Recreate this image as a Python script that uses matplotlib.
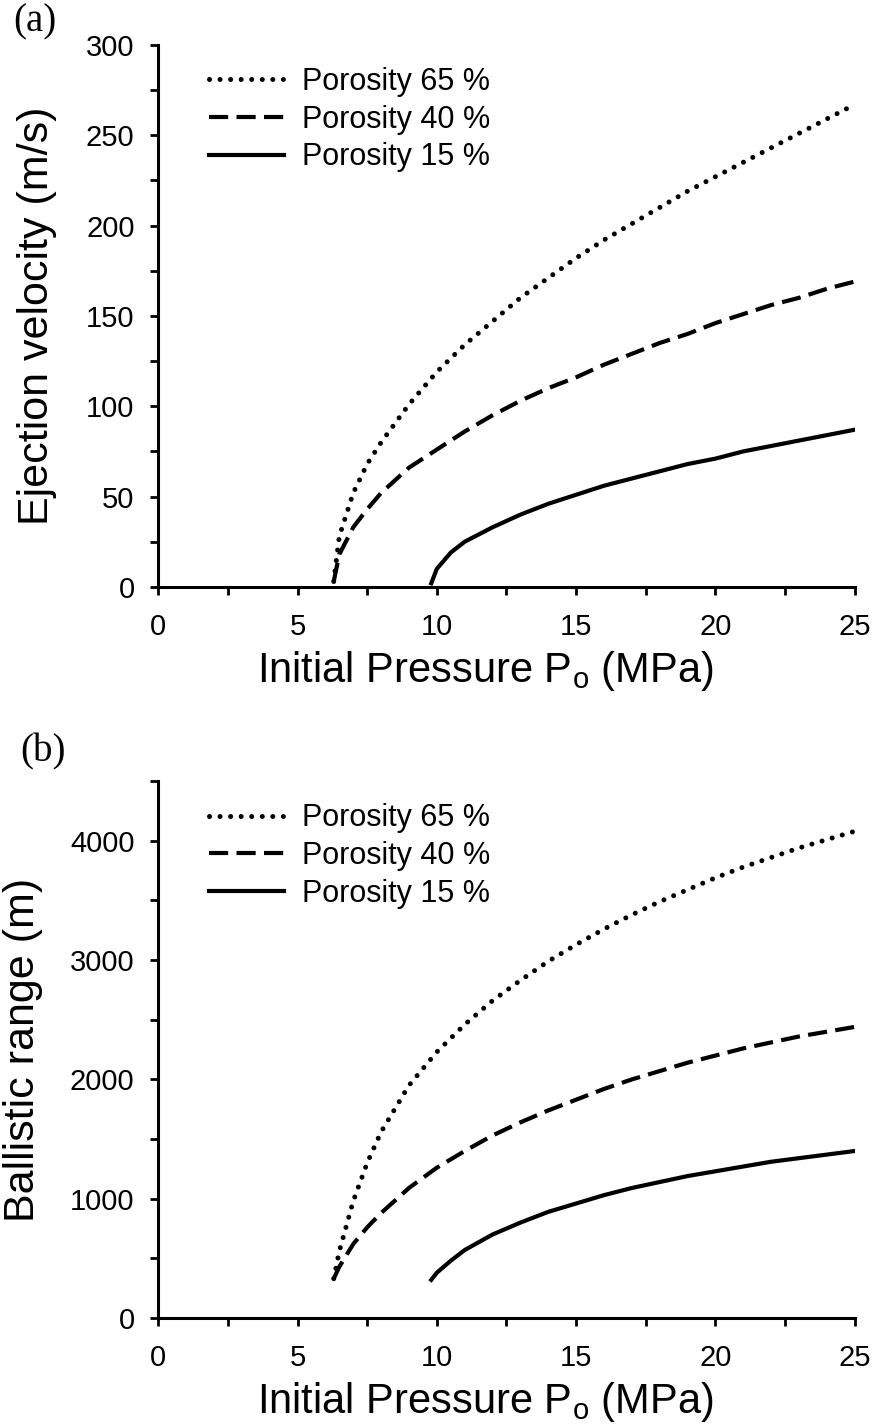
import matplotlib.pyplot as plt
from matplotlib.ticker import MultipleLocator

plt.rcParams['font.family'] = ['Liberation Sans', 'DejaVu Sans']
plt.rcParams['mathtext.fontset'] = 'custom'
plt.rcParams['mathtext.rm'] = 'Liberation Sans'

# --- data ---
# (a) ejection velocity (m/s) vs initial pressure (MPa)
p65_v = [6.3, 6.5, 7.0, 7.5, 8.0, 9.0, 10, 11, 12, 13, 14, 15, 16, 17, 18, 19, 20, 21, 22, 23, 24, 25]
v65 = [3, 28, 52, 68, 80, 101, 119, 134, 147, 160, 171, 182, 192, 201, 210, 219, 227, 235, 243, 251, 259, 267]
p40_v = [6.3, 6.5, 7.0, 7.5, 8.0, 9.0, 10, 11, 12, 13, 14, 15, 16, 17, 18, 19, 20, 21, 22, 23, 24, 25]
v40 = [3, 18, 33, 43, 52, 66, 76, 86, 95, 103, 110, 116, 123, 129, 135, 140, 146, 151, 156, 160, 165, 169]
p15_v = [9.8, 10.0, 10.5, 11, 12, 13, 14, 15, 16, 17, 18, 19, 20, 21, 22, 23, 24, 25]
v15 = [2, 10, 19, 25, 33, 40, 46, 51, 56, 60, 64, 68, 71, 75, 78, 81, 84, 87]

# (b) ballistic range (m) vs initial pressure (MPa)
p65_r = [6.3, 6.5, 7.0, 7.5, 8.0, 9.0, 10, 11, 12, 13, 14, 15, 16, 17, 18, 19, 20, 21, 22, 23, 24, 25]
r65 = [330, 560, 980, 1300, 1560, 1950, 2230, 2460, 2660, 2830, 2990, 3130, 3260, 3380, 3490, 3590, 3690, 3780, 3860, 3940, 4010, 4080]
p40_r = [6.3, 6.5, 7.0, 7.5, 8.0, 9.0, 10, 11, 12, 13, 14, 15, 16, 17, 18, 19, 20, 21, 22, 23, 24, 25]
r40 = [330, 430, 620, 760, 880, 1090, 1260, 1400, 1530, 1640, 1740, 1830, 1920, 2000, 2070, 2140, 2200, 2260, 2310, 2360, 2400, 2440]
p15_r = [9.8, 10.0, 10.5, 11, 12, 13, 14, 15, 16, 17, 18, 19, 20, 21, 22, 23, 24, 25]
r15 = [320, 380, 480, 570, 700, 800, 890, 960, 1030, 1090, 1140, 1190, 1230, 1270, 1310, 1340, 1370, 1400]

labels = ['Porosity 65 %', 'Porosity 40 %', 'Porosity 15 %']
styles = [dict(linestyle=(0, (0.01, 2.1)), linewidth=3.6, dash_capstyle='round'),
          dict(linestyle=(0, (4.6, 2.0)), linewidth=3.0),
          dict(linestyle='-', linewidth=3.0)]

fig = plt.figure(figsize=(8.74, 14.28), dpi=100)
ax1 = fig.add_axes([0.181, 0.589, 0.797, 0.3796])
ax2 = fig.add_axes([0.181, 0.077, 0.797, 0.376])

panels = [
    (ax1, [(p65_v, v65), (p40_v, v40), (p15_v, v15)], 300, 50, 25, 'Ejection velocity (m/s)', -0.145),
    (ax2, [(p65_r, r65), (p40_r, r40), (p15_r, r15)], 4500, 1000, 500, 'Ballistic range (m)', -0.165),
]

for ax, series, ytop, ymaj, ymin, ylab, ylx in panels:
    for (x, y), lab, st in zip(series, labels, styles):
        ax.plot(x, y, color='black', label=lab, **st)
    ax.set_xlim(0, 25)
    ax.set_ylim(0, ytop)
    ax.xaxis.set_major_locator(MultipleLocator(5))
    ax.xaxis.set_minor_locator(MultipleLocator(2.5))
    ax.yaxis.set_major_locator(MultipleLocator(ymaj))
    ax.yaxis.set_minor_locator(MultipleLocator(ymin))
    if ytop == 4500:
        ax.set_yticks([0, 1000, 2000, 3000, 4000])
    for s in ['top', 'right']:
        ax.spines[s].set_visible(False)
    for s in ['left', 'bottom']:
        ax.spines[s].set_linewidth(2.2)
    ax.tick_params(which='both', direction='out', length=6, width=2, labelsize=21)
    ax.tick_params(axis='y', pad=11)
    ax.tick_params(axis='x', pad=13)
    ax.set_ylabel(ylab, fontsize=31)
    ax.yaxis.set_label_coords(ylx, 0.5)
    ax.set_xlabel(r'Initial Pressure P$_\mathregular{o}$ (MPa)', fontsize=30)
    ax.xaxis.set_label_coords(0.47, -0.115)
    ax.legend(loc='upper left', bbox_to_anchor=(0.033, 1.01), frameon=False, fontsize=22,
              handlelength=2.45, handletextpad=0.6, labelspacing=0.25)

fig.text(13 / 874, 1 - 22 / 1428, '(a)', family='Liberation Serif', fontsize=28, va='center')
fig.text(20 / 874, 1 - 752 / 1428, '(b)', family='Liberation Serif', fontsize=28, va='center')

fig.savefig('out.png', dpi=100)
